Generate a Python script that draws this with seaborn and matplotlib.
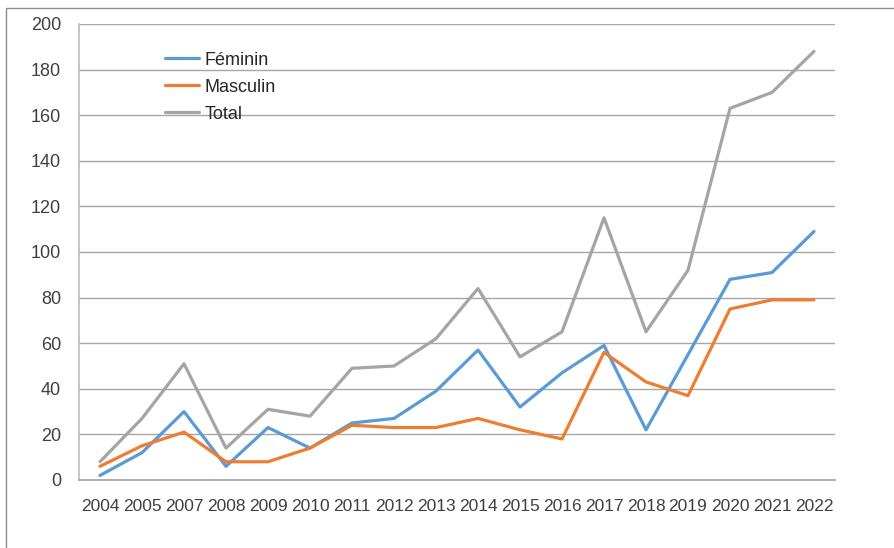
import matplotlib
matplotlib.use("Agg")
import matplotlib.pyplot as plt
import numpy as np
import pandas as pd
import seaborn as sns
from matplotlib.patches import Rectangle

years = ["2004", "2005", "2007", "2008", "2009", "2010", "2011", "2012", "2013",
         "2014", "2015", "2016", "2017", "2018", "2019", "2020", "2021", "2022"]
feminin = [2, 12, 30, 6, 23, 14, 25, 27, 39, 57, 32, 47, 59, 22, 55, 88, 91, 109]
masculin = [6, 15, 21, 8, 8, 14, 24, 23, 23, 27, 22, 18, 56, 43, 37, 75, 79, 79]
total = [8, 27, 51, 14, 31, 28, 49, 50, 62, 84, 54, 65, 115, 65, 92, 163, 170, 188]

series = ["Féminin", "Masculin", "Total"]
colors = {"Féminin": "#5B9BD5", "Masculin": "#ED7D31", "Total": "#A5A5A5"}

df = pd.DataFrame({"year": years, "Féminin": feminin,
                   "Masculin": masculin, "Total": total})
long = df.melt(id_vars="year", var_name="serie", value_name="n")
long["pos"] = long["year"].map({y: i for i, y in enumerate(years)})

sns.set_theme(style="white")
plt.rcParams["font.family"] = ["Liberation Sans", "DejaVu Sans"]

fig = plt.figure(figsize=(8.95, 5.48), dpi=100)
ax = fig.add_axes([79 / 895, 68 / 548, 756 / 895, 456 / 548])

# outer chart frame (only top and left visible in the crop)
fig.patches.append(Rectangle((6 / 895, -0.1), 1.2, (540 / 548) + 0.1,
                             transform=fig.transFigure, fill=False,
                             edgecolor="#8c8c8c", linewidth=1.0))

sns.lineplot(data=long, x="pos", y="n", hue="serie", hue_order=series,
             palette=colors, linewidth=2.3, ax=ax, sort=False)

ax.set_xlim(-0.5, len(years) - 0.5)
ax.set_ylim(0, 200)
ax.set_yticks(np.arange(0, 201, 20))
ax.yaxis.grid(True, color="#a6a6a6", linewidth=1.0)
ax.set_axisbelow(True)
ax.set_xticks(range(len(years)))
ax.set_xticklabels(years)
ax.set_xticks(np.arange(-0.5, len(years), 1), minor=True)
ax.tick_params(axis="x", which="major", length=0, pad=14, labelsize=12.5,
               labelcolor="#404040")
ax.tick_params(axis="x", which="minor", length=5, width=1, color="#a6a6a6",
               direction="out")
ax.tick_params(axis="y", length=6, width=1, color="#a6a6a6", direction="out",
               labelsize=13, labelcolor="#404040", pad=7)

for side in ["top", "right"]:
    ax.spines[side].set_visible(False)
ax.spines["left"].set_color("#bfbfbf")
ax.spines["bottom"].set_color("#a6a6a6")
ax.set_xlabel("")
ax.set_ylabel("")

leg = ax.legend(loc="upper left", bbox_to_anchor=(0.092, 0.975), frameon=False,
                fontsize=13, handlelength=1.9, handletextpad=0.3,
                labelspacing=0.55)
for t in leg.get_texts():
    t.set_color("#262626")
for line in leg.get_lines():
    line.set_linewidth(2.3)

fig.savefig("out.png", dpi=100)
